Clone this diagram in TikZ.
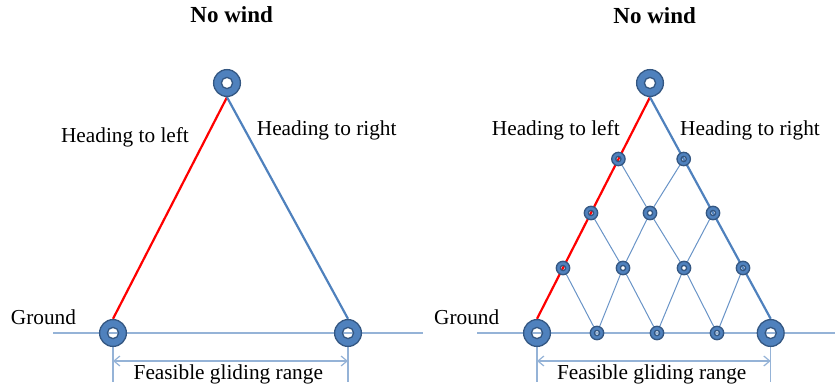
\documentclass[tikz,border=0pt]{standalone}
\usepackage{fontspec}
\setmainfont{Liberation Serif}
\usetikzlibrary{arrows.meta}
\definecolor{gblue}{RGB}{79,129,189}
\definecolor{gdark}{RGB}{52,87,130}
\definecolor{gline}{RGB}{149,179,215}
\begin{document}
\begin{tikzpicture}[x=1pt, y=-1pt]
    \tikzstyle{glider} = [circle, inner sep=0pt, minimum size=28pt]
    \tikzstyle{waypoint} = [circle, inner sep=0pt, minimum size=14pt]
    \tikzstyle{ring} = [fill=gblue, draw=gdark, line width=1.3pt, even odd rule]
    \tikzstyle{txt} = [font=\fontsize{21.3}{24}\selectfont, anchor=base, inner sep=0pt]
    \tikzstyle{title} = [font=\fontsize{23}{26}\selectfont\bfseries, anchor=base, inner sep=0pt]
    \tikzstyle{dim} = [gline, line width=1.2pt]
    \tikzstyle{path} = [line width=2.2pt]
    \tikzstyle{grid} = [gblue!85, line width=1pt]

    \useasboundingbox (0,0) rectangle (835,389);

    % Left: no wind, one glider
    \node [glider] (L0) at (227,83) {};
    \node [glider] (La) at (113,333) {};
    \node [glider] (Lb) at (348,333) {};

    \coordinate (Lg1) at (53,333);
    \coordinate (Lg2) at (423,333);
    \draw [dim] (Lg1) -- (Lg2);

    \draw [path, red] (L0.south) -- (La.north);
    \draw [path, gblue] (L0.south) -- (Lb.north);

    \coordinate (Lt1) at (113,382);
    \coordinate (Lt2) at (348,382);
    \coordinate (Ld1) at (113,361);
    \coordinate (Ld2) at (348,361);
    \draw [dim] (La.south) -- (Lt1);
    \draw [dim] (Lb.south) -- (Lt2);
    \draw [dim, {Straight Barb[length=6pt,width=10pt]}-{Straight Barb[length=6pt,width=10pt]}] (Ld1) -- (Ld2);

    \node [title] (Ltitle) at (231.7,22.7) {No wind};
    \node [txt] (Lleft) at (125,142) {Heading to left};
    \node [txt] (Lright) at (326.7,135) {Heading to right};
    \node [txt] (Lground) at (43.5,324) {Ground};
    \node [txt] (Lrange) at (228.3,379) {Feasible gliding range};

    % Right: no wind, lattice of waypoints
    \node [glider] (R0) at (650,83) {};
    \node [glider] (Ra) at (537,333) {};
    \node [glider] (Rb) at (770.7,333) {};

    \node [waypoint] (p11) at (618.4,159) {};
    \node [waypoint] (p12) at (683.7,159) {};
    \node [waypoint] (p21) at (591,213) {};
    \node [waypoint] (p22) at (650,213) {};
    \node [waypoint] (p23) at (713,213) {};
    \node [waypoint] (p31) at (563,268) {};
    \node [waypoint] (p32) at (623,268) {};
    \node [waypoint] (p33) at (684,268) {};
    \node [waypoint] (p34) at (743,268) {};
    \node [waypoint] (p41) at (597,333) {};
    \node [waypoint] (p42) at (657,333) {};
    \node [waypoint] (p43) at (717,333) {};

    \coordinate (Rg1) at (477,333);
    \coordinate (Rg2) at (835,333);
    \draw [dim] (Rg1) -- (Rg2);

    \draw [grid] (p11) -- (p22);
    \draw [grid] (p12) -- (p22);
    \draw [grid] (p21) -- (p32);
    \draw [grid] (p22) -- (p32);
    \draw [grid] (p22) -- (p33);
    \draw [grid] (p23) -- (p33);
    \draw [grid] (p31) -- (p41);
    \draw [grid] (p32) -- (p41);
    \draw [grid] (p32) -- (p42);
    \draw [grid] (p33) -- (p42);
    \draw [grid] (p33) -- (p43);
    \draw [grid] (p34) -- (p43);

    \draw [path, red] (R0.south) -- (Ra.north);
    \draw [path, gblue] (R0.south) -- (Rb.north);

    \coordinate (Rt1) at (537,382);
    \coordinate (Rt2) at (770.7,382);
    \coordinate (Rd1) at (537,361);
    \coordinate (Rd2) at (770.7,361);
    \draw [dim] (Ra.south) -- (Rt1);
    \draw [dim] (Rb.south) -- (Rt2);
    \draw [dim, {Straight Barb[length=6pt,width=10pt]}-{Straight Barb[length=6pt,width=10pt]}] (Rd1) -- (Rd2);

    \node [title] (Rtitle) at (654.7,23) {No wind};
    \node [txt] (Rleft) at (555.8,135) {Heading to left};
    \node [txt] (Rright) at (750,135) {Heading to right};
    \node [txt] (Rground) at (466.7,324) {Ground};
    \node [txt] (Rrange) at (651.7,379.5) {Feasible gliding range};

    % Rings with open centre
    \foreach \n in {L0,La,Lb,R0,Ra,Rb}
        \draw [ring] (\n) circle (13.4pt) (\n) circle (5.6pt);
    \foreach \n in {p11,p12,p21,p22,p23,p31,p32,p33,p34,p41,p42,p43}
        \draw [ring] (\n) circle (6.7pt) (\n) circle (2.6pt);
\end{tikzpicture}
\end{document}
